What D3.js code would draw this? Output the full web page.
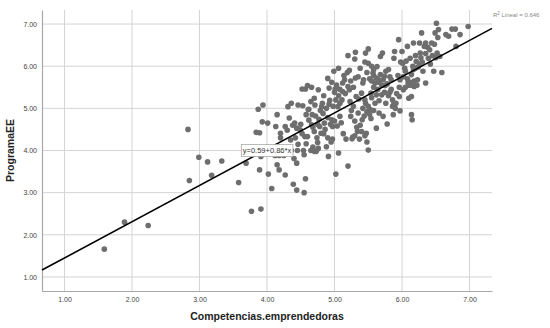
<!DOCTYPE html>
<html>
<head>
<meta charset="utf-8">
<script src="https://cdn.jsdelivr.net/npm/d3@7"></script>
<style>
  body { margin: 0; background: #fff; }
  svg { display: block; font-family: "Liberation Sans", Arial, sans-serif; }
</style>
</head>
<body>
<div id="chart"></div>
<script>
const xTicks = [1, 2, 3, 4, 5, 6, 7];
const yTicks = [1, 2, 3, 4, 5, 6, 7];
const intercept = 0.59;
const slope = 0.86;
const r2 = 0.646;

// Competencias.emprendedoras, ProgramaEE
const points = [
  [1.59, 1.66], [1.89, 2.30], [2.24, 2.22], [2.83, 4.50], [2.85, 3.29], [2.99, 3.84],
  [3.12, 3.73], [3.18, 3.41], [3.33, 3.75], [3.58, 3.24], [3.69, 3.70], [3.77, 2.56],
  [3.91, 2.61], [3.87, 4.98], [3.94, 5.08], [3.84, 4.43], [3.89, 4.42], [3.93, 4.68],
  [4.01, 4.65], [3.89, 3.54], [3.91, 3.86], [4.02, 3.44], [4.07, 3.10], [4.15, 4.85],
  [4.13, 4.57], [4.15, 3.66], [4.18, 3.54], [4.20, 4.41], [4.27, 3.42], [4.27, 4.57],
  [4.31, 5.04], [4.36, 5.12], [4.33, 4.77], [4.39, 3.20], [4.44, 3.06], [4.55, 3.00],
  [4.57, 3.33], [4.40, 3.81], [4.44, 3.70], [4.45, 4.00], [4.41, 4.65], [4.44, 4.53],
  [4.49, 4.49], [4.46, 5.08], [4.53, 5.06], [4.52, 5.46], [4.57, 5.46], [4.60, 5.54],
  [4.66, 5.50], [4.61, 4.97], [4.56, 4.33], [4.60, 4.33], [4.58, 4.16], [4.54, 4.00],
  [4.55, 3.90], [4.65, 4.00], [4.66, 4.61], [4.67, 4.85], [4.70, 5.24], [4.71, 5.08],
  [4.73, 3.98], [4.75, 4.19], [4.76, 5.44], [4.77, 4.74], [4.78, 4.57], [4.80, 4.41],
  [4.81, 5.04], [4.84, 5.30], [4.83, 4.88], [4.85, 4.65], [4.88, 4.09], [4.91, 3.86],
  [4.90, 5.71], [4.93, 5.19], [4.96, 4.73], [4.97, 4.57], [4.97, 4.27], [4.99, 5.88],
  [5.01, 5.46], [5.02, 3.44], [5.05, 5.04], [5.06, 5.95], [5.06, 3.94], [5.08, 4.81],
  [5.11, 5.20], [5.13, 4.40], [5.15, 5.68], [5.17, 4.27], [5.20, 6.25], [5.19, 5.85],
  [5.20, 3.63], [5.22, 5.44], [5.23, 5.16], [5.24, 4.81], [5.27, 4.32], [5.30, 6.17],
  [5.31, 6.33], [5.31, 5.72], [5.32, 5.28], [5.34, 4.45], [5.35, 4.89], [5.37, 4.27],
  [5.40, 5.36], [5.41, 4.73], [5.43, 5.68], [5.45, 5.20], [5.46, 6.31], [5.47, 4.41],
  [5.48, 4.20], [5.50, 6.41], [5.50, 4.01], [5.50, 6.07], [5.53, 4.97], [5.54, 5.36],
  [5.54, 4.76], [5.57, 5.84], [5.58, 5.50], [5.60, 5.12], [5.62, 4.53], [5.63, 5.99],
  [5.65, 5.68], [5.66, 4.89], [5.68, 6.23], [5.70, 5.32], [5.71, 6.31], [5.72, 4.81],
  [5.74, 5.76], [5.75, 5.54], [5.76, 5.12], [5.78, 4.63], [5.80, 5.92], [5.82, 5.38],
  [5.84, 5.68], [5.86, 5.20], [5.87, 4.85], [5.88, 6.19], [5.89, 6.35], [5.91, 5.12],
  [5.95, 6.63], [5.96, 5.28], [5.97, 4.94], [5.97, 5.68], [6.00, 6.35], [6.01, 6.07],
  [6.02, 5.44], [6.05, 5.88], [6.08, 6.47], [6.09, 5.61], [6.10, 5.24], [6.12, 6.19],
  [6.14, 4.85], [6.15, 4.73], [6.17, 6.55], [6.17, 5.92], [6.18, 5.52], [6.21, 6.11],
  [6.23, 5.68], [6.26, 6.55], [6.27, 6.31], [6.29, 6.79], [6.31, 5.88], [6.33, 6.47],
  [6.35, 5.60], [6.39, 6.19], [6.41, 6.39], [6.44, 6.55], [6.47, 5.88], [6.49, 6.79],
  [6.51, 7.02], [6.52, 6.31], [6.54, 6.87], [6.53, 6.68], [6.56, 6.23], [6.59, 5.85],
  [6.65, 6.75], [6.69, 6.71], [6.74, 6.88], [6.79, 6.88], [6.80, 6.47], [6.86, 6.75],
  [6.98, 6.94], [6.14, 5.28],
  [4.62, 4.72], [4.68, 4.55], [4.72, 4.82], [4.75, 4.62], [4.79, 4.95], [4.82, 5.12],
  [4.86, 4.50], [4.88, 5.00], [4.90, 4.78], [4.92, 5.10], [4.94, 4.62], [4.98, 5.05],
  [5.00, 4.70], [5.02, 5.20], [5.04, 4.58], [5.06, 5.30], [5.08, 5.12], [5.10, 4.66],
  [5.12, 5.40], [4.58, 4.85], [4.62, 4.98], [4.65, 5.16], [4.70, 4.45], [4.74, 4.30],
  [4.84, 4.40], [4.90, 4.30], [4.95, 4.20], [4.68, 4.08], [4.76, 4.05], [4.70, 3.98],
  [5.25, 4.95], [5.28, 5.05], [5.30, 4.70], [5.33, 4.55], [5.36, 5.22], [5.38, 4.60],
  [5.42, 5.00], [5.44, 4.82], [5.46, 5.12], [5.48, 4.92], [5.50, 5.05], [5.52, 4.86],
  [5.55, 5.25], [5.58, 4.95], [5.40, 4.45], [5.30, 4.35], [5.26, 4.28], [5.45, 4.35],
  [5.60, 5.60], [5.62, 5.72], [5.64, 5.45], [5.66, 5.62], [5.68, 5.80], [5.70, 5.55],
  [5.72, 5.68], [5.74, 5.38], [5.76, 5.88], [5.78, 5.58], [5.80, 5.30], [5.82, 5.75],
  [5.84, 5.45], [5.86, 5.05], [5.88, 5.10], [5.90, 5.00], [5.92, 5.35], [5.94, 5.78],
  [5.96, 5.50], [5.98, 6.10], [5.55, 5.65], [5.58, 5.78], [5.62, 5.32], [5.66, 5.18],
  [6.02, 5.75], [6.04, 5.95], [6.06, 6.12], [6.08, 5.70], [6.10, 5.55], [6.12, 5.62],
  [6.14, 5.80], [6.16, 6.00], [6.18, 5.65], [6.20, 6.25], [6.22, 5.55], [6.24, 5.98],
  [6.26, 6.05], [6.28, 6.20], [6.30, 6.10], [6.05, 5.50], [6.15, 5.55], [6.20, 5.95],
  [4.92, 5.48], [4.96, 5.62], [5.00, 5.38], [5.03, 5.55], [5.08, 5.45], [5.12, 5.60],
  [5.16, 5.35], [5.20, 5.52], [5.24, 5.65], [5.14, 5.78], [5.22, 5.90], [5.28, 5.50],
  [6.35, 6.30], [6.38, 6.45], [6.42, 6.05], [6.45, 6.25], [6.48, 6.52], [6.50, 6.20],
  [6.35, 6.55], [5.35, 5.75], [5.38, 5.95], [5.42, 5.60], [5.45, 6.10], [5.48, 5.85],
  [5.52, 5.70], [5.55, 6.00], [5.58, 5.92],
  [4.30, 4.48], [4.35, 4.25], [4.38, 4.60], [4.42, 4.30], [4.46, 4.15], [4.50, 4.62],
  [4.52, 4.40], [4.36, 4.00], [4.22, 3.95], [4.25, 3.88], [4.18, 3.88], [4.20, 4.30],
  [4.05, 3.95], [4.12, 3.88]
];

const width = 550;
const height = 328;
const margin = { top: 10, right: 58, bottom: 37, left: 42 };
const innerRight = width - margin.right;
const innerBottom = height - margin.bottom;

const x = d3.scaleLinear().domain([0.667, 7.333]).range([margin.left, innerRight]);
const y = d3.scaleLinear().domain([0.667, 7.333]).range([innerBottom, margin.top]);

const svg = d3.select('#chart').append('svg')
  .attr('width', width)
  .attr('height', height);

// grid lines
svg.append('g').selectAll('line')
  .data(yTicks)
  .join('line')
  .attr('x1', margin.left).attr('x2', innerRight)
  .attr('y1', d => y(d)).attr('y2', d => y(d))
  .attr('stroke', '#d4d4d4').attr('stroke-width', 1);

svg.append('g').selectAll('line')
  .data(xTicks)
  .join('line')
  .attr('x1', d => x(d)).attr('x2', d => x(d))
  .attr('y1', margin.top).attr('y2', innerBottom)
  .attr('stroke', '#d4d4d4').attr('stroke-width', 1);

// axes
const xAxis = svg.append('g')
  .attr('transform', `translate(0,${innerBottom})`)
  .call(d3.axisBottom(x).tickValues(xTicks).tickFormat(d3.format('.2f')).tickSize(0).tickPadding(6));

const yAxis = svg.append('g')
  .attr('transform', `translate(${margin.left},0)`)
  .call(d3.axisLeft(y).tickValues(yTicks).tickFormat(d3.format('.2f')).tickSize(0).tickPadding(5));

[xAxis, yAxis].forEach(ax => {
  ax.select('.domain').attr('stroke', '#a8a8a8').attr('stroke-width', 1.2);
  ax.selectAll('text')
    .attr('fill', '#444')
    .style('font-size', '7px')
    .style('font-family', '"Liberation Sans", Arial, sans-serif');
});

// points
svg.append('g').selectAll('circle')
  .data(points)
  .join('circle')
  .attr('cx', d => x(d[0]))
  .attr('cy', d => y(d[1]))
  .attr('r', 2.8)
  .attr('fill', '#6e6e6e');

// fit line
const [x0, x1] = x.domain();
svg.append('line')
  .attr('x1', x(x0)).attr('y1', y(intercept + slope * x0))
  .attr('x2', x(x1)).attr('y2', y(intercept + slope * x1))
  .attr('stroke', '#000')
  .attr('stroke-width', 1.6);

// equation label at plot centre
const cx = (margin.left + innerRight) / 2;
const cy = (margin.top + innerBottom) / 2;
const eq = svg.append('g').attr('transform', `translate(${cx},${cy})`);
const eqText = eq.append('text')
  .attr('text-anchor', 'middle')
  .attr('dy', '0.35em')
  .attr('fill', '#333')
  .style('font-size', '7.5px')
  .text(`y=${intercept.toFixed(2)}+${slope.toFixed(2)}*x`);
const bb = eqText.node().getBBox();
eq.insert('rect', 'text')
  .attr('x', bb.x - 1.5).attr('y', -6)
  .attr('width', bb.width + 3).attr('height', 12)
  .attr('fill', '#fff')
  .attr('stroke', '#aaa')
  .attr('stroke-width', 0.8);

// R2 annotation
const r2Text = svg.append('text')
  .attr('x', 493).attr('y', 17)
  .attr('fill', '#888')
  .style('font-size', '6px');
r2Text.append('tspan').text('R');
r2Text.append('tspan').attr('dy', -2.5).style('font-size', '4.5px').text('2');
r2Text.append('tspan').attr('dy', 2.5).text(` Lineal = ${r2.toFixed(3)}`);

// axis titles
svg.append('text')
  .attr('x', cx).attr('y', 320)
  .attr('text-anchor', 'middle')
  .attr('fill', '#222')
  .style('font-size', '10.5px')
  .style('font-weight', 'bold')
  .text('Competencias.emprendedoras');

svg.append('text')
  .attr('transform', `translate(14,${cy}) rotate(-90)`)
  .attr('text-anchor', 'middle')
  .attr('fill', '#222')
  .style('font-size', '10.5px')
  .style('font-weight', 'bold')
  .text('ProgramaEE');
</script>
</body>
</html>
